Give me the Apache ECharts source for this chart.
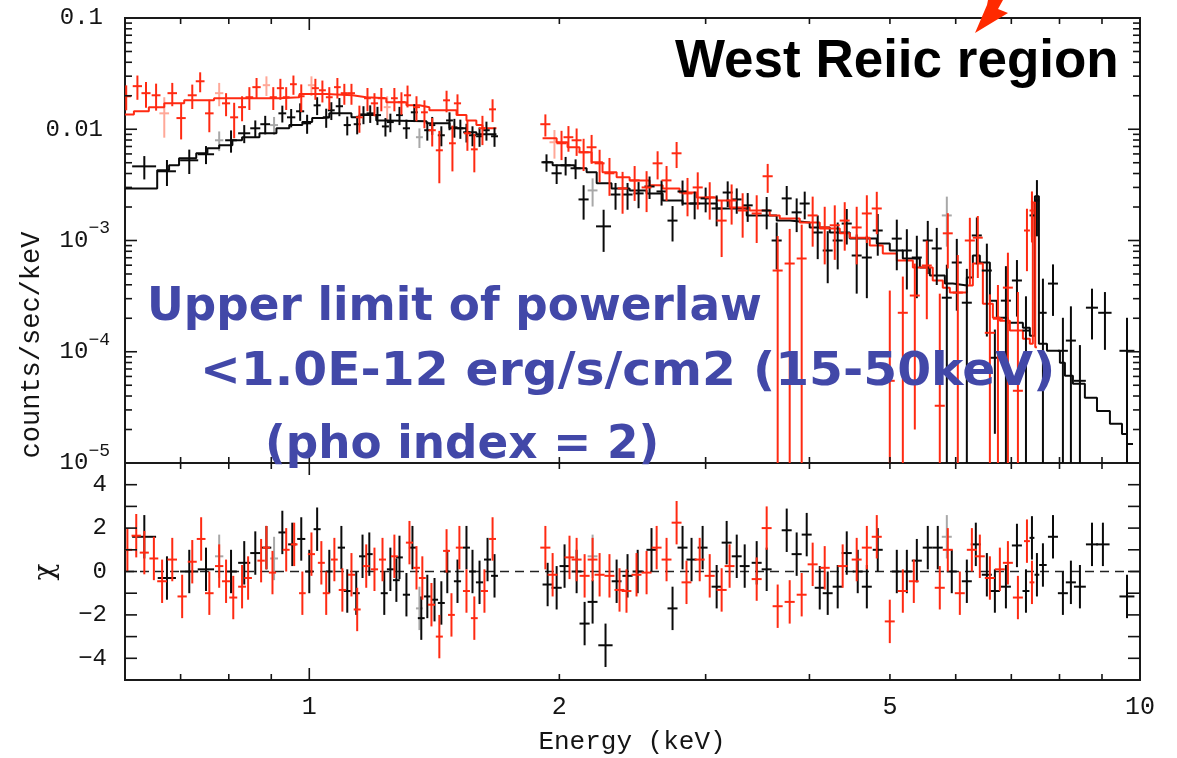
<!DOCTYPE html>
<html>
<head>
<meta charset="utf-8">
<title>West Relic region spectrum</title>
<script src="https://cdn.jsdelivr.net/npm/echarts@6/dist/echarts.min.js"></script>
<style>
  html, body { margin: 0; padding: 0; background: #ffffff; }
  #chart { width: 1177px; height: 758px; }
</style>
</head>
<body>
<div id="chart"></div>
<script>
// ---------------------------------------------------------------------------
// Spectral data: energy bin centre (keV), bin half-width (keV),
// count rate (counts/sec/keV) and its 1-sigma error.
// ---------------------------------------------------------------------------
const BLK_LO_E = [0.633,0.674,0.717,0.751,0.805,0.835,0.861,0.885,0.928,0.951,0.975,0.994,1.022,1.048,1.063,1.087,1.111,1.142,1.162,1.184,1.208,1.235,1.252,1.284,1.309,1.338,1.387,1.406,1.442,1.475,1.495,1.520,1.546,1.572,1.603,1.634,1.671];
const BLK_LO_W = [0.021,0.017,0.018,0.017,0.013,0.014,0.012,0.012,0.010,0.011,0.011,0.011,0.010,0.010,0.010,0.011,0.011,0.011,0.011,0.012,0.012,0.012,0.012,0.012,0.013,0.013,0.012,0.012,0.014,0.014,0.013,0.013,0.014,0.015,0.015,0.015,0.016];
const BLK_LO_F = [0.00464,0.00419,0.00526,0.00596,0.00796,0.0092,0.0102,0.0111,0.0139,0.0128,0.0145,0.0113,0.0164,0.0128,0.0148,0.0161,0.0109,0.0111,0.0136,0.0139,0.0134,0.0106,0.0116,0.0134,0.0102,0.0142,0.0098,0.0109,0.00883,0.012,0.0104,0.0102,0.0094,0.00883,0.00865,0.0098,0.00865];
const BLK_LO_ERR = [0.0011,0.0011,0.0013,0.0011,0.0018,0.0017,0.0018,0.0021,0.0024,0.0024,0.0026,0.0022,0.003,0.0025,0.0027,0.003,0.0021,0.0021,0.0025,0.0025,0.0025,0.002,0.0022,0.0025,0.002,0.0026,0.0019,0.002,0.0018,0.0022,0.002,0.002,0.0018,0.0018,0.0017,0.0019,0.0017];

const BLK_HI_E = [1.930,1.985,2.035,2.092,2.139,2.261,2.337,2.416,2.491,2.568,2.655,2.737,2.814,2.910,3.000,3.093,3.189,3.270,3.371,3.553,3.653,3.756,3.861,3.948,4.093,4.208,4.326,4.436,4.560,4.690,4.834,5.096,5.240,5.387,5.553,5.693,5.854,6.018,6.188,6.362,6.541,6.688,6.896,7.110,7.290,7.412,7.515,7.641,7.857,8.076,8.257,8.466,8.754,9.074,9.646];
const BLK_HI_W = [0.027,0.028,0.028,0.029,0.030,0.047,0.032,0.034,0.035,0.036,0.037,0.038,0.039,0.040,0.042,0.043,0.044,0.045,0.047,0.049,0.051,0.052,0.054,0.055,0.057,0.058,0.060,0.062,0.063,0.065,0.067,0.071,0.073,0.075,0.077,0.079,0.081,0.084,0.086,0.088,0.091,0.093,0.096,0.099,0.070,0.050,0.050,0.080,0.109,0.112,0.115,0.140,0.146,0.168,0.200];
const BLK_HI_F = [0.00505,0.00402,0.00474,0.00446,0.00234,0.00134,0.00259,0.00259,0.00265,0.00306,0.00276,0.00151,0.00276,0.00215,0.00239,0.00194,0.0027,0.00234,0.00207,0.00186,0.001,0.00239,0.00179,0.00215,0.00118,0.000813,0.001,0.00142,0.000733,0.000703,0.00123,0.00104,0.000813,0.000703,0.001,0.000848,0.000306,0.000634,0.000276,0.00111,0.000537,0.0000883,0.000288,0.000437,0.000155,0.00168,0.00229,0.000224,0.00041,0.000102,0.000126,0.0000548,0.000249,0.000224,0.000102];
const BLK_HI_ERR = [0.0009,0.0008,0.0009,0.0009,0.0008,0.00055,0.0007,0.0007,0.0007,0.0007,0.0007,0.00053,0.0007,0.0006,0.0006,0.0006,0.0007,0.0006,0.0006,0.0006,0.00045,0.0007,0.0006,0.0006,0.0005,0.0004,0.00045,0.0005,0.0004,0.0004,0.0005,0.0005,0.00045,0.0004,0.0005,0.00045,0.0003,0.0004,0.00028,0.0005,0.0004,0.00007,0.0003,0.00023,0.00016,0.0006,0.0012,0.00023,0.0002,0.0001,0.00013,0.00006,0.00012,0.00012,0.0001];

const RED_LO_E = [0.602,0.621,0.636,0.654,0.684,0.701,0.723,0.739,0.758,0.794,0.812,0.830,0.847,0.864,0.905,0.923,0.938,0.957,0.978,1.017,1.037,1.057,1.081,1.102,1.124,1.149,1.175,1.198,1.221,1.266,1.291,1.313,1.346,1.376,1.406,1.434,1.463,1.487,1.508,1.550,1.580,1.616,1.662];
const RED_LO_W = [0.008,0.008,0.008,0.008,0.009,0.009,0.009,0.009,0.009,0.009,0.009,0.009,0.009,0.010,0.009,0.009,0.009,0.009,0.009,0.010,0.010,0.010,0.010,0.011,0.011,0.011,0.011,0.012,0.012,0.012,0.013,0.013,0.013,0.013,0.014,0.014,0.014,0.014,0.015,0.015,0.015,0.016,0.016];
const RED_LO_F = [0.0198,0.0244,0.0211,0.0202,0.0211,0.0126,0.0202,0.027,0.0139,0.0171,0.0128,0.0158,0.0194,0.0239,0.0194,0.0234,0.0194,0.0254,0.0198,0.0234,0.0224,0.0194,0.0239,0.0211,0.0211,0.0128,0.019,0.0171,0.019,0.019,0.0175,0.0202,0.0158,0.0142,0.0098,0.00647,0.0182,0.00748,0.0171,0.0092,0.0066,0.0102,0.0151];
const RED_LO_ERR = [0.005,0.006,0.0055,0.0055,0.005,0.0045,0.005,0.0055,0.0045,0.004,0.0045,0.004,0.0045,0.005,0.0045,0.005,0.0045,0.005,0.0055,0.005,0.005,0.0045,0.005,0.0045,0.0045,0.0035,0.0045,0.004,0.0045,0.0045,0.004,0.0045,0.004,0.004,0.0028,0.0032,0.004,0.0033,0.0035,0.0028,0.0025,0.003,0.0035];

const RED_HI_E = [1.924,2.012,2.051,2.098,2.139,2.187,2.236,2.298,2.383,2.464,2.547,2.626,2.692,2.768,2.853,2.935,3.034,3.136,3.224,3.324,3.456,3.563,3.663,3.787,3.915,4.036,4.173,4.291,4.411,4.560,4.690,4.821,4.998,5.182,5.357,5.538,5.741,5.870,6.035,6.240,6.379,6.596,6.745,6.934,7.129,7.310,7.412];
const RED_HI_W = [0.027,0.028,0.028,0.029,0.030,0.030,0.031,0.032,0.033,0.034,0.035,0.036,0.037,0.038,0.040,0.041,0.042,0.044,0.045,0.046,0.048,0.050,0.051,0.053,0.054,0.056,0.058,0.060,0.061,0.063,0.065,0.067,0.069,0.072,0.074,0.077,0.080,0.081,0.084,0.087,0.088,0.092,0.094,0.096,0.099,0.060,0.050];
const RED_HI_F = [0.0111,0.00748,0.00848,0.00796,0.00621,0.00689,0.00494,0.00402,0.00294,0.00347,0.003,0.00494,0.00347,0.00608,0.00265,0.003,0.00244,0.00151,0.00229,0.00186,0.00175,0.00378,0.000537,0.000621,0.000689,0.00168,0.00131,0.00137,0.00151,0.00131,0.00175,0.00194,0.0000548,0.000224,0.00032,0.000596,0.0000327,0.00116,0.00034,0.001,0.00106,0.000148,0.000198,0.000377,0.0000446,0.00123,0.00186];
const RED_HI_ERR = [0.0025,0.0022,0.0022,0.0022,0.002,0.002,0.0016,0.0015,0.0012,0.0012,0.0012,0.0014,0.0012,0.0016,0.001,0.0011,0.0009,0.0008,0.0009,0.0008,0.0008,0.0011,0.00056,0.00065,0.0007,0.0008,0.0007,0.0007,0.0007,0.0007,0.0008,0.0008,0.0003,0.00025,0.0003,0.0004,0.0003,0.0006,0.0004,0.0006,0.0006,0.00018,0.0002,0.0004,0.0003,0.0007,0.0009];

// Faint (de-emphasised) bins of each data group
const GREY_E = [0.779,0.907,1.357,2.193,5.854];
const GREY_W = [0.009,0.010,0.013,0.030,0.081];
const GREY_F = [0.00796,0.0109,0.00848,0.00282,0.00168];
const GREY_ERR = [0.0016,0.002,0.0017,0.0008,0.0008];
const PINK_E = [0.669,0.779,0.888,1.006,1.241,1.973];
const PINK_W = [0.009,0.009,0.009,0.010,0.012,0.027];
const PINK_F = [0.0139,0.0211,0.0249,0.0249,0.0158,0.00764];
const PINK_ERR = [0.0055,0.005,0.005,0.005,0.004,0.0022];

// Folded model, histogram form: left bin edge (keV) and model rate.
const MOD_BLK_LO_E = [0.600,0.656,0.678,0.697,0.731,0.754,0.779,0.808,0.830,0.871,0.913,0.946,0.981,1.008,1.037,1.057,1.124,1.149,1.204,1.238,1.384,1.475,1.546,1.589,1.680];
const MOD_BLK_LO_F = [0.00294,0.00428,0.00474,0.00548,0.00608,0.00675,0.00718,0.00796,0.00848,0.0092,0.0102,0.0109,0.0116,0.0126,0.0128,0.0139,0.0128,0.0134,0.012,0.0118,0.0113,0.0102,0.0094,0.0090,0.0090];
const MOD_RED_LO_E = [0.600,0.615,0.641,0.669,0.707,0.768,0.920,0.973,1.048,1.127,1.171,1.238,1.309,1.357,1.395,1.504,1.546,1.589,1.616,1.680];
const MOD_RED_LO_F = [0.0136,0.0145,0.0158,0.0171,0.0182,0.019,0.0194,0.0207,0.0202,0.0194,0.019,0.0175,0.0164,0.0158,0.0148,0.0134,0.012,0.0109,0.0102,0.0102];
const MOD_BLK_HI_E = [1.909,1.963,2.086,2.157,2.218,2.311,2.430,2.547,2.663,2.814,3.093,3.362,3.653,3.787,4.003,4.232,4.473,4.821,4.998,5.182,5.432,5.585,5.822,5.952,6.188,6.292,6.415,6.596,6.725,6.934,7.228,7.369,7.473,7.556,7.727,8.009,8.121,8.303,8.583,8.876,9.200,9.513,9.646,9.808];
const MOD_BLK_HI_F = [0.00505,0.00474,0.00446,0.0041,0.00327,0.00294,0.00282,0.00265,0.00229,0.00215,0.00194,0.00168,0.00151,0.00145,0.00131,0.00118,0.00104,0.00094,0.000813,0.000689,0.000571,0.000484,0.00041,0.000394,0.000465,0.000733,0.000634,0.000288,0.000202,0.000182,0.000164,0.000139,0.0025,0.000118,0.000102,0.0000796,0.0000608,0.0000515,0.0000385,0.0000294,0.0000225,0.0000182,0.0000148,0.0000148];
const MOD_RED_HI_E = [1.909,1.985,2.046,2.115,2.187,2.254,2.344,2.430,2.568,2.663,2.791,2.926,3.093,3.206,3.389,3.583,3.684,3.894,4.116,4.351,4.473,4.728,4.902,5.096,5.328,5.630,5.789,5.903,6.188,6.292,6.469,6.651,6.781,6.972,7.228,7.369,7.430,7.480,7.515];
const MOD_RED_HI_F = [0.0083,0.00764,0.00689,0.00621,0.00505,0.0041,0.0037,0.00347,0.00313,0.00294,0.0027,0.00244,0.00229,0.00198,0.00186,0.00168,0.00158,0.00145,0.00128,0.00116,0.00106,0.000902,0.000764,0.000661,0.000571,0.000437,0.000377,0.00034,0.000394,0.000621,0.00027,0.000202,0.00019,0.000155,0.000131,0.000118,0.0022,0.00011,0.00011];

// Residuals in units of sigma: bin centre, half-width, chi.
const RES_BLK_E = [0.633,0.674,0.717,0.751,0.805,0.835,0.861,0.888,0.928,0.954,0.978,1.000,1.022,1.057,1.093,1.111,1.139,1.159,1.181,1.231,1.252,1.273,1.284,1.309,1.331,1.364,1.387,1.415,1.442,1.466,1.508,1.546,1.572,1.603,1.639,1.671,1.936,1.985,2.029,2.098,2.145,2.193,2.273,2.344,2.416,2.485,2.582,2.737,2.814,2.885,2.975,3.093,3.180,3.270,3.343,3.456,3.553,3.756,3.861,3.970,4.116,4.208,4.326,4.436,4.573,4.690,4.834,5.096,5.240,5.387,5.553,5.709,5.935,6.188,6.344,6.541,6.688,6.896,7.110,7.290,7.412,7.515,7.641,7.857,8.076,8.257,8.466,8.754,9.023,9.646];
const RES_BLK_W = [0.021,0.017,0.018,0.017,0.013,0.014,0.012,0.012,0.010,0.011,0.011,0.011,0.010,0.010,0.011,0.011,0.011,0.011,0.011,0.012,0.012,0.012,0.012,0.013,0.013,0.013,0.013,0.014,0.014,0.014,0.015,0.015,0.015,0.016,0.016,0.016,0.027,0.028,0.028,0.029,0.030,0.030,0.045,0.032,0.034,0.035,0.036,0.038,0.039,0.040,0.041,0.043,0.044,0.045,0.046,0.048,0.049,0.052,0.054,0.055,0.057,0.058,0.060,0.062,0.063,0.065,0.067,0.071,0.073,0.075,0.077,0.079,0.082,0.086,0.088,0.091,0.093,0.096,0.099,0.070,0.050,0.050,0.080,0.109,0.112,0.115,0.140,0.146,0.168,0.200];
const RES_BLK_CHI = [1.6,-0.3,0.0,0.1,0.0,0.4,0.85,1.1,1.8,1.25,1.5,0.0,1.95,0.0,1.1,-0.9,-1.0,0.7,0.8,-1.0,0.1,-0.4,0.65,-1.07,1.1,-2.15,-1.15,-1.3,-1.45,0.0,-0.45,1.1,0.0,-0.5,0.55,-0.2,-0.6,-0.75,0.25,0.0,-2.4,-1.4,-3.4,-0.45,-0.2,0.0,1.0,-1.7,1.1,0.55,1.1,-0.7,1.33,0.7,0.25,0.4,0.1,1.9,0.8,1.7,-0.75,-1.0,-0.7,0.85,0.0,-0.7,1.0,0.0,0.0,0.5,1.1,1.1,0.0,-0.45,1.25,-0.15,-0.9,-0.7,1.2,-0.9,1.55,-0.15,0.3,1.6,-1.0,-0.5,-0.7,1.25,1.25,-1.15];

const RES_RED_E = [0.604,0.619,0.633,0.650,0.665,0.684,0.703,0.723,0.741,0.758,0.779,0.794,0.810,0.830,0.844,0.875,0.888,0.903,0.938,0.959,0.981,1.006,1.034,1.048,1.072,1.096,1.124,1.142,1.171,1.198,1.225,1.266,1.320,1.346,1.368,1.403,1.434,1.463,1.483,1.516,1.546,1.580,1.625,1.662,1.924,1.963,2.057,2.098,2.145,2.193,2.236,2.298,2.363,2.409,2.477,2.547,2.619,2.692,2.768,2.845,2.951,3.034,3.136,3.206,3.456,3.553,3.663,3.787,3.915,4.036,4.173,4.386,4.560,4.690,4.821,4.998,5.182,5.342,5.741,5.870,6.069,6.275,6.415,6.596,6.781,6.934,7.129,7.310,7.412];
const RES_RED_W = [0.008,0.008,0.008,0.008,0.009,0.009,0.009,0.009,0.009,0.009,0.009,0.009,0.009,0.009,0.009,0.009,0.009,0.009,0.009,0.009,0.009,0.010,0.010,0.010,0.010,0.011,0.011,0.011,0.011,0.012,0.012,0.012,0.013,0.013,0.013,0.014,0.014,0.014,0.014,0.015,0.015,0.015,0.016,0.016,0.027,0.027,0.028,0.029,0.030,0.030,0.031,0.032,0.033,0.033,0.034,0.035,0.036,0.037,0.038,0.039,0.041,0.042,0.044,0.044,0.048,0.049,0.051,0.053,0.054,0.056,0.058,0.061,0.063,0.065,0.067,0.069,0.072,0.074,0.080,0.081,0.084,0.087,0.089,0.092,0.094,0.096,0.099,0.060,0.050];
const RES_RED_CHI = [1.0,1.65,0.87,0.6,-0.45,0.55,-1.15,0.45,1.5,-1.0,0.25,-0.45,-1.2,-0.7,-0.3,0.5,1.1,-0.05,1.0,1.25,-1.0,0.8,0.4,-1.0,0.55,-0.85,-0.15,-1.75,0.25,0.1,0.55,0.7,1.33,0.17,-0.3,-1.53,-3.0,0.95,-2.0,1.1,-0.9,-2.15,-0.9,1.5,1.1,-0.15,0.65,0.55,-0.2,0.55,-0.15,-0.2,-0.85,-0.9,-0.15,-0.05,1.1,0.55,2.25,-0.5,0.55,-0.2,-0.85,0.25,-0.35,2.0,-1.6,-1.4,-1.07,0.33,0.17,0.25,0.55,1.1,1.6,-2.3,-0.9,-0.45,-0.75,1.0,-1.0,1.0,0.7,-0.3,0.1,0.4,-1.2,1.4,-0.5];
const RES_GREY_E = [0.779,0.907,1.357,2.193,5.854];
const RES_GREY_W = [0.009,0.010,0.013,0.030,0.081];
const RES_GREY_CHI = [0.7,0.6,-1.7,0.7,1.6];
const CHI_ERR = 1;

// Axis ranges, ticks and tick labels
const E_MIN = 0.6, E_MAX = 10;
const F_MIN = 1e-5, F_MAX = 0.1;
const CHI_MIN = -5, CHI_MAX = 5;
const X_TICKS = [0.7, 0.8, 0.9, 1, 2, 3, 4, 5, 6, 7, 8, 9];
const X_DECADES = [1];
const X_LABEL_VALUES = [1, 2, 5, 10];
const X_LABEL_TEXT = ['1', '2', '5', '10'];
const F_DECADES = [1e-4, 1e-3, 1e-2];
const F_MINOR = [];
[1e-5, 1e-4, 1e-3, 1e-2].forEach(d => { for (let m = 2; m <= 9; m++) F_MINOR.push(m * d); });
const CHI_TICKS = [-4, -3, -2, -1, 0, 1, 2, 3, 4];

// Annotation text
const TITLE_TEXT = 'West Reiic region';
const NOTE_LINES = ['Upper limit of powerlaw', '<1.0E-12 erg/s/cm2 (15-50keV)', '(pho index = 2)'];

// ---------------------------------------------------------------------------
const MONO = '"Liberation Mono", "DejaVu Sans Mono", monospace';
const INK = '#141414';
const BLACK = '#0a0a0a';
const RED = '#ff2a12';
const GREY = '#a8a8a8';
const PINK = '#ffa898';
const BLUE = '#4248a8';
const NOTE_FONT = 'bold 46px "DejaVu Sans", sans-serif';

const chart = echarts.init(document.getElementById('chart'), null, { renderer: 'canvas', width: 1177, height: 758 });

function seg(x1, y1, x2, y2, color, w) {
  return { type: 'line', shape: { x1, y1, x2, y2 }, style: { stroke: color, lineWidth: w } };
}

// Data points with error bars, drawn as crosses
function crosses(E, W, V, ERR, color, gi, floor, z) {
  return {
    type: 'custom', xAxisIndex: gi, yAxisIndex: gi, clip: true, silent: true, z: z || 4,
    data: E.map((e, i) => [e, V[i], W[i], Array.isArray(ERR) ? ERR[i] : ERR]),
    renderItem(params, api) {
      const e = api.value(0), v = api.value(1), w = api.value(2), er = api.value(3);
      const lo = Math.max(v - er, floor);
      const a = api.coord([e - w, v]), b = api.coord([e + w, v]);
      const c = api.coord([e, lo]), d = api.coord([e, v + er]);
      return { type: 'group', children: [
        seg(a[0], a[1], b[0], b[1], color, 2),
        seg(c[0], c[1], d[0], d[1], color, 2)
      ] };
    }
  };
}

// Folded model histogram
function model(E, F, color) {
  return {
    type: 'line', xAxisIndex: 0, yAxisIndex: 0, step: 'end', showSymbol: false, symbol: 'none',
    silent: true, z: 3, data: E.map((e, i) => [e, F[i]]),
    lineStyle: { color: color, width: 2 }
  };
}

// Inward tick marks on the four sides of each panel
function xTicks(gi, yLo, yHi) {
  return {
    type: 'custom', xAxisIndex: gi, yAxisIndex: gi, clip: false, silent: true, z: 10,
    data: X_TICKS.map(v => [v, yLo]),
    renderItem(params, api) {
      const v = api.value(0);
      const len = X_DECADES.indexOf(v) >= 0 ? 12 : 6;
      const b = api.coord([v, yLo]), t = api.coord([v, yHi]);
      return { type: 'group', children: [
        seg(b[0], b[1], b[0], b[1] - len, INK, 1.6),
        seg(t[0], t[1], t[0], t[1] + len, INK, 1.6)
      ] };
    }
  };
}
function yTicks(gi, vals, len) {
  return {
    type: 'custom', xAxisIndex: gi, yAxisIndex: gi, clip: false, silent: true, z: 10,
    data: vals.map(v => [E_MIN, v]),
    renderItem(params, api) {
      const v = api.value(1);
      const l = api.coord([E_MIN, v]), r = api.coord([E_MAX, v]);
      return { type: 'group', children: [
        seg(l[0], l[1], l[0] + len, l[1], INK, 1.6),
        seg(r[0], r[1], r[0] - len, r[1], INK, 1.6)
      ] };
    }
  };
}

const xLabels = {
  type: 'custom', xAxisIndex: 1, yAxisIndex: 1, clip: false, silent: true, z: 10,
  data: X_LABEL_VALUES.map(v => [v, CHI_MIN]),
  renderItem(params, api) {
    const c = api.coord([api.value(0), CHI_MIN]);
    return { type: 'text', x: c[0], y: c[1] + 27,
      style: { text: X_LABEL_TEXT[params.dataIndex], font: '25px ' + MONO, fill: INK,
        align: 'center', verticalAlign: 'middle', textAlign: 'center', textVerticalAlign: 'middle' } };
  }
};

const zeroLine = {
  type: 'line', xAxisIndex: 1, yAxisIndex: 1, showSymbol: false, symbol: 'none', silent: true, z: 2,
  data: [[E_MIN, 0], [E_MAX, 0]],
  lineStyle: { color: '#222', width: 1.5, type: [9, 6] }
};

const logAxisX = (gi) => ({
  type: 'log', logBase: 10, gridIndex: gi, min: E_MIN, max: E_MAX,
  axisLine: { show: false }, axisTick: { show: false }, axisLabel: { show: false }, splitLine: { show: false }
});

function note(text, x, y, sx) {
  return { type: 'text', x: x, y: y, scaleX: sx, z: 20,
    style: { text: text, font: NOTE_FONT, fill: BLUE, align: 'left', verticalAlign: 'middle', textAlign: 'left', textVerticalAlign: 'middle' } };
}

const option = {
  animation: false,
  backgroundColor: '#ffffff',
  grid: [
    { left: 125, top: 18, width: 1015, height: 445, show: true, borderColor: '#1a1a1a', borderWidth: 2, backgroundColor: 'transparent' },
    { left: 125, top: 463, width: 1015, height: 217, show: true, borderColor: '#1a1a1a', borderWidth: 2, backgroundColor: 'transparent' }
  ],
  xAxis: [logAxisX(0), logAxisX(1)],
  yAxis: [
    {
      type: 'log', logBase: 10, gridIndex: 0, min: F_MIN, max: F_MAX,
      axisLine: { show: false }, axisTick: { show: false }, splitLine: { show: false },
      axisLabel: {
        margin: 15, color: INK,
        formatter: (v) => {
          const p = Math.round(Math.log10(v));
          if (p === -1) return '{n|0.1}';
          if (p === -2) return '{n|0.01}';
          return '{b|10}{s|\u2212' + (-p) + '}';
        },
        rich: {
          n: { fontFamily: MONO, fontSize: 24, color: INK, padding: [0, 7, 0, 0] },
          b: { fontFamily: MONO, fontSize: 24, color: INK, padding: [9, 0, 9, 0] },
          s: { fontFamily: MONO, fontSize: 18, color: INK, verticalAlign: 'top' }
        }
      }
    },
    {
      type: 'value', gridIndex: 1, min: CHI_MIN, max: CHI_MAX, interval: 1,
      axisLine: { show: false }, axisTick: { show: false }, splitLine: { show: false },
      axisLabel: {
        margin: 18, color: INK, fontFamily: MONO, fontSize: 24,
        formatter: (v) => (v % 2 === 0 && Math.abs(v) <= 4) ? (v < 0 ? '\u2212' + (-v) : String(v)) : ''
      }
    }
  ],
  series: [
    zeroLine,
    crosses(GREY_E, GREY_W, GREY_F, GREY_ERR, GREY, 0, F_MIN, 2),
    crosses(PINK_E, PINK_W, PINK_F, PINK_ERR, PINK, 0, F_MIN, 2),
    crosses(RES_GREY_E, RES_GREY_W, RES_GREY_CHI, CHI_ERR, GREY, 1, -Infinity, 2),
    model(MOD_BLK_LO_E, MOD_BLK_LO_F, BLACK),
    model(MOD_BLK_HI_E, MOD_BLK_HI_F, BLACK),
    crosses(BLK_LO_E, BLK_LO_W, BLK_LO_F, BLK_LO_ERR, BLACK, 0, F_MIN),
    crosses(BLK_HI_E, BLK_HI_W, BLK_HI_F, BLK_HI_ERR, BLACK, 0, F_MIN),
    model(MOD_RED_LO_E, MOD_RED_LO_F, RED),
    model(MOD_RED_HI_E, MOD_RED_HI_F, RED),
    crosses(RED_LO_E, RED_LO_W, RED_LO_F, RED_LO_ERR, RED, 0, F_MIN),
    crosses(RED_HI_E, RED_HI_W, RED_HI_F, RED_HI_ERR, RED, 0, F_MIN),
    crosses(RES_BLK_E, RES_BLK_W, RES_BLK_CHI, CHI_ERR, BLACK, 1, -Infinity),
    crosses(RES_RED_E, RES_RED_W, RES_RED_CHI, CHI_ERR, RED, 1, -Infinity),
    xTicks(0, F_MIN, F_MAX),
    xTicks(1, CHI_MIN, CHI_MAX),
    yTicks(0, F_DECADES, 12),
    yTicks(0, F_MINOR, 7),
    yTicks(1, CHI_TICKS, 12),
    xLabels
  ],
  graphic: [
    { type: 'text', x: 32, y: 345, rotation: Math.PI / 2, z: 20,
      style: { text: 'counts/sec/keV', font: '27px ' + MONO, fill: INK, align: 'center', verticalAlign: 'middle', textAlign: 'center', textVerticalAlign: 'middle' } },
    { type: 'text', x: 46, y: 572, rotation: Math.PI / 2, z: 20,
      style: { text: '\u03c7', font: '28px "DejaVu Serif"', fill: INK, align: 'center', verticalAlign: 'middle', textAlign: 'center', textVerticalAlign: 'middle' } },
    { type: 'text', x: 632, y: 742, z: 20,
      style: { text: 'Energy (keV)', font: '26px ' + MONO, fill: INK, align: 'center', verticalAlign: 'middle', textAlign: 'center', textVerticalAlign: 'middle' } },
    { type: 'text', x: 675, y: 62, z: 20,
      style: { text: TITLE_TEXT, font: 'bold 53px "Liberation Sans", Arial, sans-serif', fill: '#000', align: 'left', verticalAlign: 'middle', textAlign: 'left', textVerticalAlign: 'middle' } },
    { type: 'polygon', z: 20,
      shape: { points: [[975, 33], [1008, 13], [998, 9], [1003, 0], [988, 0], [987, 5]] },
      style: { fill: '#ff2a00' } },
    note(NOTE_LINES[0], 147, 308, 0.985),
    note(NOTE_LINES[1], 200, 373, 1.06),
    note(NOTE_LINES[2], 265, 446, 0.985)
  ]
};

chart.setOption(option);
</script>
</body>
</html>
